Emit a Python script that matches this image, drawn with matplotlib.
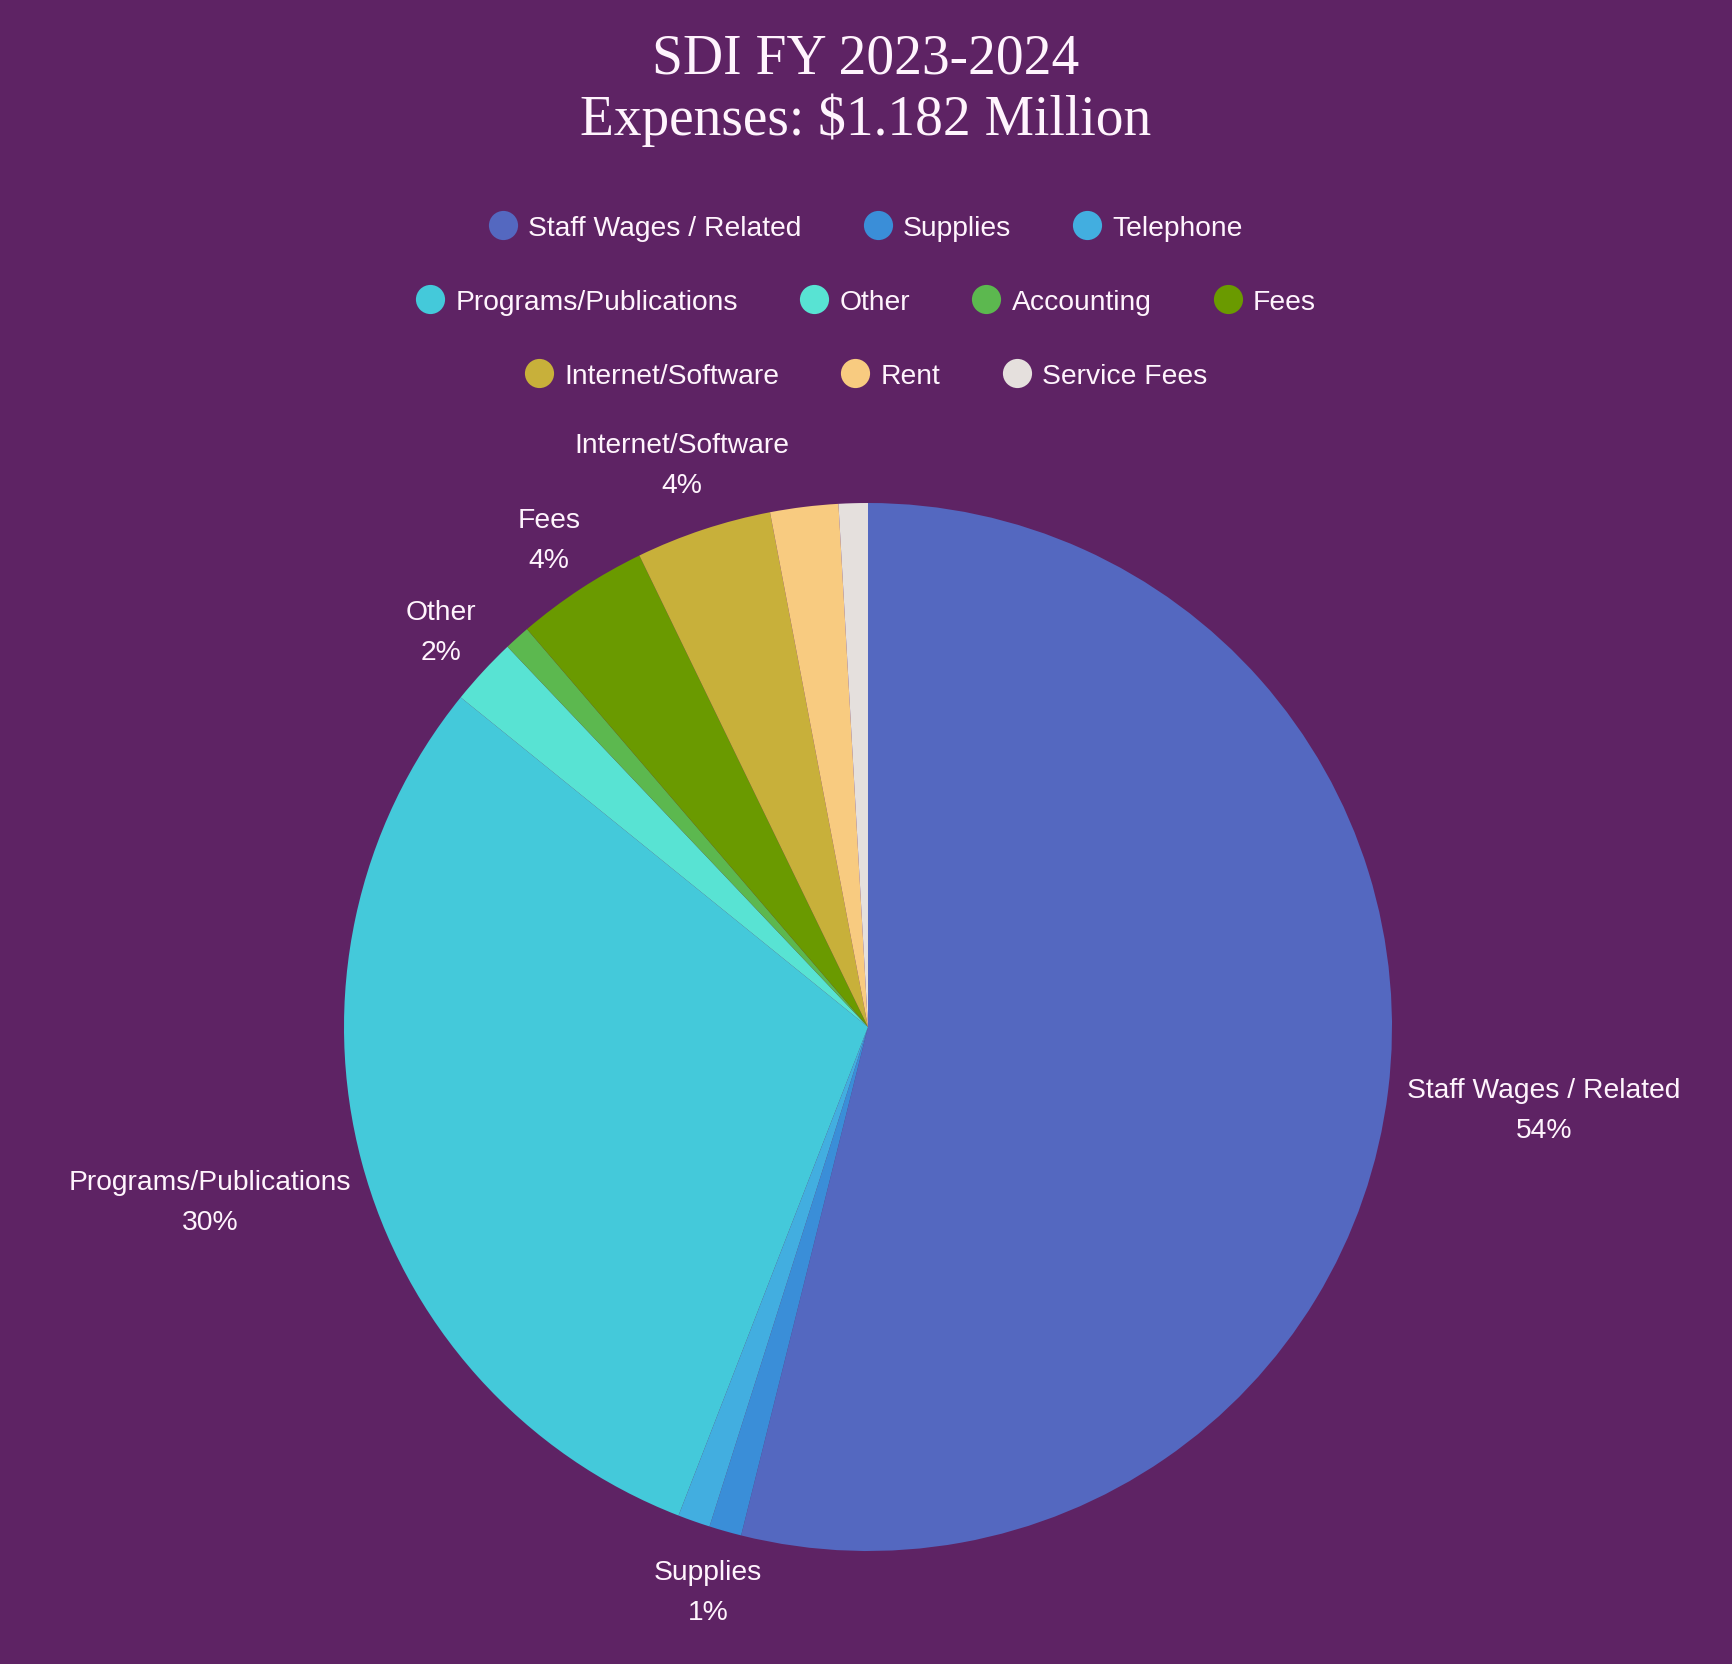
import matplotlib
matplotlib.use("Agg")
import matplotlib.pyplot as plt
from matplotlib.lines import Line2D
import numpy as np

# ---- data ----
categories = ["Staff Wages / Related", "Supplies", "Telephone", "Programs/Publications",
              "Other", "Accounting", "Fees", "Internet/Software", "Rent", "Service Fees"]
values = [54.0, 1.0, 1.0, 30.0, 2.1, 0.8, 4.1, 4.2, 2.1, 0.9]
colors = ["#5468c0", "#3a8ed8", "#42aee0", "#44c9da", "#58e3d3", "#5cb84f",
          "#6a9a00", "#c8b03a", "#f8cb80", "#e5e0dd"]
labeled = {"Staff Wages / Related": "54%", "Programs/Publications": "30%",
           "Supplies": "1%", "Other": "2%", "Fees": "4%", "Internet/Software": "4%"}
label_dist = {"Staff Wages / Related": 1.30, "Programs/Publications": 1.30,
              "Supplies": 1.12, "Other": 1.11, "Fees": 1.11, "Internet/Software": 1.13}
legend_rows = [categories[0:3], categories[3:7], categories[7:10]]
title = "SDI FY 2023-2024\nExpenses: $1.182 Million"

BG = "#5e2364"
TXT = "#fff4fd"
W, H = 1732, 1665
fig = plt.figure(figsize=(W / 100, H / 100), dpi=100, facecolor=BG)

# pie axes: center (868, 1028) px, radius 524 px
cx, cy, r = 868, 1028, 524
ax = fig.add_axes([(cx - r) / W, (H - cy - r) / H, 2 * r / W, 2 * r / H])
ax.set_facecolor(BG)
wedges, _ = ax.pie(values, colors=colors, startangle=90, counterclock=False,
                   radius=1.0, wedgeprops=dict(linewidth=0))
ax.set_xlim(-1, 1)
ax.set_ylim(-1, 1)
ax.set_aspect("equal")
ax.axis("off")

font = "Liberation Sans"
FS = 20.3
for w, name in zip(wedges, categories):
    if name not in labeled:
        continue
    ang = np.deg2rad((w.theta1 + w.theta2) / 2)
    d = label_dist[name]
    ax.text(d * np.cos(ang), d * np.sin(ang), f"{name}\n{labeled[name]}",
            ha="center", va="center", color=TXT, fontsize=FS, family=font,
            linespacing=1.7, clip_on=False)

# title
fig.text(0.5, 1 - 90 / H, title, ha="center", va="center", color=TXT,
         fontsize=40, family="Liberation Serif", linespacing=1.2)

# legend rows
row_y = [229, 303, 377]
cmap = dict(zip(categories, colors))
for row, y in zip(legend_rows, row_y):
    handles = [Line2D([], [], marker="o", linestyle="none", markersize=21,
                      markerfacecolor=cmap[n], markeredgewidth=0) for n in row]
    leg = fig.legend(handles, row, loc="center", bbox_to_anchor=(0.5, 1 - y / H),
                     ncol=len(row), frameon=False, columnspacing=2.2,
                     handletextpad=0.4, handlelength=1.0,
                     prop=dict(family=font, size=FS))
    for t in leg.get_texts():
        t.set_color(TXT)

fig.savefig("out.png", dpi=100, facecolor=BG)
